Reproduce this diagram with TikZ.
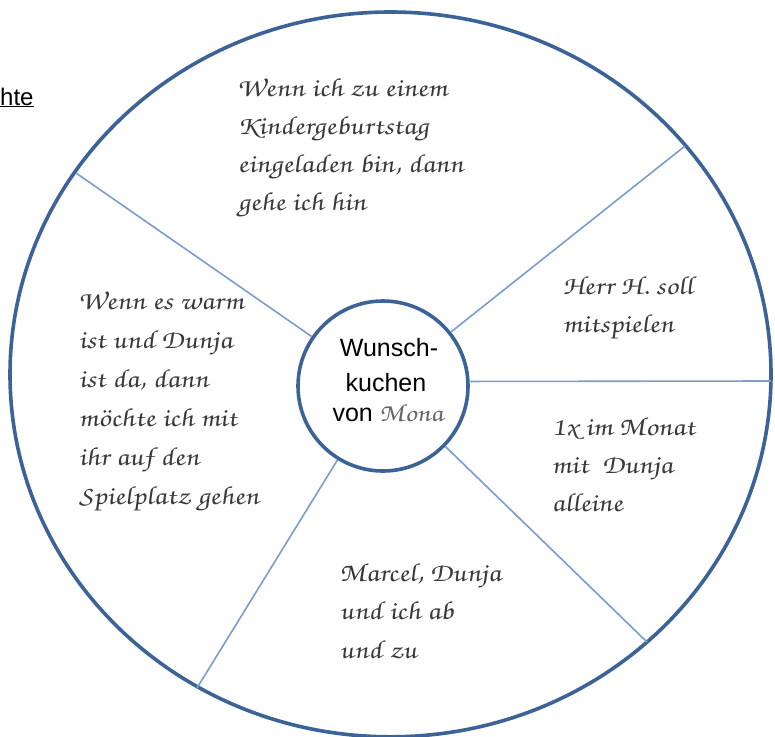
\documentclass[tikz,border=0pt]{standalone}
\usepackage{fontspec}
\setmainfont{Liberation Sans}
\newfontfamily\hand{texgyrechorus-mediumitalic.otf}[FakeStretch=1.2,FakeSlant=-0.15]
\definecolor{ringblue}{HTML}{3B6397}
\definecolor{spokeblue}{HTML}{7B9DCD}
\definecolor{inkgray}{HTML}{3A3A3A}
\begin{document}
\begin{tikzpicture}[x=1pt,y=-1pt,
  ring/.style={draw=ringblue, line width=3.6pt},
  spoke/.style={draw=spokeblue, line width=1.6pt},
  hw/.style={font=\hand\fontsize{26}{38}\selectfont, text=inkgray, anchor=base west, inner sep=0pt},
  hubtxt/.style={font=\fontsize{25}{33}\selectfont, text=black, anchor=base, inner sep=0pt}]
\useasboundingbox (0,0) rectangle (775,736);
\fill[white] (0,0) rectangle (775,736);
\draw[ring] (390.5,374.4) ellipse [x radius=380.5pt, y radius=362.4pt];
\coordinate (eUL) at (76,173);
\coordinate (eUR) at (685,146);
\coordinate (eR) at (771,381);
\coordinate (eLR) at (647,642);
\coordinate (eLL) at (197,688);
\node[circle, ring, fill=white, minimum size=170pt, inner sep=0pt] (hub) at (383,386) {};
\draw[spoke] (hub) -- (eUL);
\draw[spoke] (hub) -- (eUR);
\draw[spoke] (hub.3.3) -- (eR);
\draw[spoke] (hub) -- (eLR);
\draw[spoke] (hub) -- (eLL);
\node[hubtxt] (h1) at (389,356) {Wunsch-};
\node[hubtxt] (h2) at (386,391) {kuchen};
\node[hubtxt] (h3) at (388,421) {von {\hand\color{black!60}Mona}};
\node[font=\fontsize{24}{28}\selectfont, anchor=base west, inner sep=0pt] (frag) at (0,105) {\underline{hte}};
\foreach \s [count=\i] in {Wenn ich zu einem, Kindergeburtstag, {eingeladen bin, dann}, gehe ich hin}
  \node[hw] (top\i) at (238,{96+38*(\i-1)}) {\s};
\foreach \s [count=\i] in {Herr H. soll, mitspielen}
  \node[hw] (ru\i) at (563,{294+38*(\i-1)}) {\s};
\foreach \s [count=\i] in {1x im Monat, mit\ \ Dunja, alleine}
  \node[hw] (rl\i) at (552,{435+38*(\i-1)}) {\s};
\foreach \s [count=\i] in {{Marcel, Dunja}, und ich ab, und zu}
  \node[hw] (bt\i) at (340,{581+38.5*(\i-1)}) {\s};
\foreach \s [count=\i] in {Wenn es warm, ist und Dunja, {ist da, dann}, möchte ich mit, ihr auf den, Spielplatz gehen}
  \node[hw] (lf\i) at (79,{309+39*(\i-1)}) {\s};
\end{tikzpicture}
\end{document}
